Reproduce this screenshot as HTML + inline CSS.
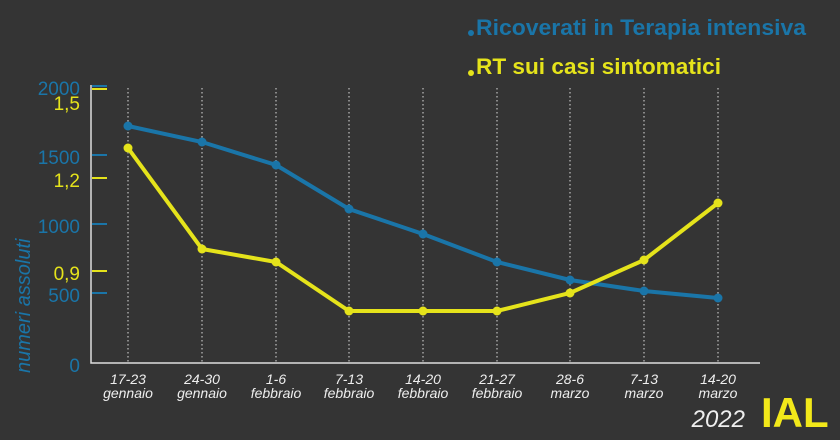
<!DOCTYPE html>
<html><head><style>
body{margin:0;background:#343434;}
svg{display:block;font-family:"Liberation Sans",sans-serif;}
</style></head><body>
<svg width="840" height="440" viewBox="0 0 840 440">
<rect width="840" height="440" fill="#343434"/>
<g font-weight="bold" font-size="22" font-family="Liberation Sans Narrow, Liberation Sans, sans-serif">
<circle cx="471" cy="33" r="3" fill="#1a75a8"/>
<text x="476" y="35" fill="#1a75a8" textLength="330" lengthAdjust="spacingAndGlyphs">Ricoverati in Terapia intensiva</text>
<circle cx="471" cy="73" r="3" fill="#e5e31b"/>
<text x="476" y="74" fill="#e5e31b" textLength="245" lengthAdjust="spacingAndGlyphs">RT sui casi sintomatici</text>
</g>
<g stroke="#ddd" stroke-width="1" stroke-dasharray="1.5,2.5">
<line x1="128" y1="88" x2="128" y2="362"/><line x1="202" y1="88" x2="202" y2="362"/><line x1="276" y1="88" x2="276" y2="362"/><line x1="349" y1="88" x2="349" y2="362"/><line x1="423" y1="88" x2="423" y2="362"/><line x1="497" y1="88" x2="497" y2="362"/><line x1="570" y1="88" x2="570" y2="362"/><line x1="644" y1="88" x2="644" y2="362"/><line x1="718" y1="88" x2="718" y2="362"/>
</g>
<path d="M91 85 V363 H760" fill="none" stroke="#ddd" stroke-width="1.5"/>
<g stroke-width="2">
<line x1="92" y1="86" x2="107" y2="86" stroke="#1a75a8"/><line x1="92" y1="155" x2="107" y2="155" stroke="#1a75a8"/><line x1="92" y1="224" x2="107" y2="224" stroke="#1a75a8"/><line x1="92" y1="293" x2="107" y2="293" stroke="#1a75a8"/>
<line x1="92" y1="89" x2="107" y2="89" stroke="#e5e31b"/><line x1="92" y1="178" x2="107" y2="178" stroke="#e5e31b"/><line x1="92" y1="271" x2="107" y2="271" stroke="#e5e31b"/>
</g>
<g font-size="19" text-anchor="end">
<text x="80" y="95" fill="#1a75a8">2000</text><text x="80" y="164" fill="#1a75a8">1500</text><text x="80" y="233" fill="#1a75a8">1000</text><text x="80" y="302" fill="#1a75a8">500</text><text x="80" y="372" fill="#1a75a8">0</text>
<text x="80" y="110" fill="#e5e31b">1,5</text><text x="80" y="187" fill="#e5e31b">1,2</text><text x="80" y="280" fill="#e5e31b">0,9</text>
</g>
<text transform="translate(30,373) rotate(-90)" font-size="20" font-style="italic" fill="#1a75a8">numeri assoluti</text>
<polyline points="128,126 202,142 276,165 349,209 423,234 497,262 570,280 644,291 718,298" fill="none" stroke="#1a75a8" stroke-width="4"/>
<g fill="#1a75a8"><circle cx="128" cy="126" r="4.5"/><circle cx="202" cy="142" r="4.5"/><circle cx="276" cy="165" r="4.5"/><circle cx="349" cy="209" r="4.5"/><circle cx="423" cy="234" r="4.5"/><circle cx="497" cy="262" r="4.5"/><circle cx="570" cy="280" r="4.5"/><circle cx="644" cy="291" r="4.5"/><circle cx="718" cy="298" r="4.5"/></g>
<polyline points="128,148 202,249 276,262 349,311 423,311 497,311 570,293 644,260 718,203" fill="none" stroke="#e5e31b" stroke-width="4"/>
<g fill="#e5e31b"><circle cx="128" cy="148" r="4.5"/><circle cx="202" cy="249" r="4.5"/><circle cx="276" cy="262" r="4.5"/><circle cx="349" cy="311" r="4.5"/><circle cx="423" cy="311" r="4.5"/><circle cx="497" cy="311" r="4.5"/><circle cx="570" cy="293" r="4.5"/><circle cx="644" cy="260" r="4.5"/><circle cx="718" cy="203" r="4.5"/></g>
<g font-size="14" font-style="italic" fill="#eee" text-anchor="middle">
<text x="128" y="384">17-23</text><text x="128" y="398">gennaio</text>
<text x="202" y="384">24-30</text><text x="202" y="398">gennaio</text>
<text x="276" y="384">1-6</text><text x="276" y="398">febbraio</text>
<text x="349" y="384">7-13</text><text x="349" y="398">febbraio</text>
<text x="423" y="384">14-20</text><text x="423" y="398">febbraio</text>
<text x="497" y="384">21-27</text><text x="497" y="398">febbraio</text>
<text x="570" y="384">28-6</text><text x="570" y="398">marzo</text>
<text x="644" y="384">7-13</text><text x="644" y="398">marzo</text>
<text x="718" y="384">14-20</text><text x="718" y="398">marzo</text>
</g>
<text x="745" y="427" font-size="24" font-style="italic" fill="#eee" text-anchor="end">2022</text>
<text x="761" y="427" font-size="42" font-weight="bold" fill="#f2e81a">IAL</text>
</svg>
</body></html>
